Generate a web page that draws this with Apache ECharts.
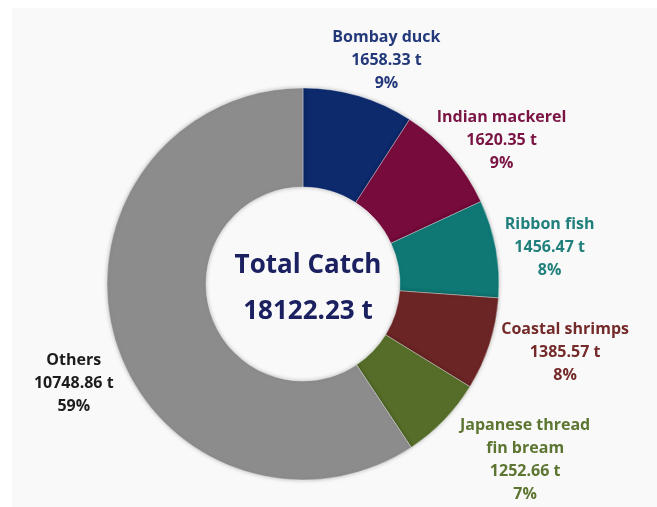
<!DOCTYPE html>
<html>
<head>
<meta charset="utf-8">
<script src="https://cdn.jsdelivr.net/npm/echarts@6/dist/echarts.min.js"></script>
<style>
  html, body { margin: 0; padding: 0; background: #ffffff; }
  #catchChart { position: absolute; left: 12px; top: 8px; width: 645px; height: 499px; background: #f9f9f9; }
</style>
</head>
<body>
<div id="catchChart"></div>
<script>
// catch by species, tonnes
var species = ['Bombay duck', 'Indian mackerel', 'Ribbon fish', 'Coastal shrimps', 'Japanese thread\nfin bream', 'Others'];
var catchTonnes = [1658.33, 1620.35, 1456.47, 1385.57, 1252.66, 10748.86];
var sharePct = [9, 9, 8, 8, 7, 59];
var totalCatch = '18122.23 t';

var sliceColors = ['#0d2a6d', '#760b3c', '#0f7874', '#6c2525', '#566d2a', '#8c8c8c'];
var labelColors = ['#23397a', '#7a1444', '#21807c', '#752a2a', '#5c7530', '#1c1c1c'];
// nudges from the default outside label spot
var labelNudge = [[10, -26], [28, -9], [29, 1], [51, 5], [59, 33], [-17, 40]];

var myChart = echarts.init(document.getElementById('catchChart'));

var pieData = species.map(function (name, i) {
    return {
        name: name,
        value: catchTonnes[i],
        itemStyle: { color: sliceColors[i] },
        label: {
            color: labelColors[i],
            formatter: name + '\n' + catchTonnes[i].toFixed(2) + ' t\n' + sharePct[i] + '%'
        }
    };
});

var option = {
    animation: false,
    title: {
        text: 'Total Catch\n' + totalCatch,
        left: 291,
        top: 276,
        textAlign: 'center',
        textVerticalAlign: 'middle',
        textStyle: {
            fontFamily: 'Open Sans',
            fontWeight: 'bold',
            fontSize: 26,
            lineHeight: 46,
            color: '#1b2060'
        }
    },
    series: [{
        type: 'pie',
        center: [291, 276],
        radius: [97, 196],
        startAngle: 90,
        clockwise: true,
        avoidLabelOverlap: false,
        itemStyle: {
            borderColor: 'rgba(255,255,255,0.35)',
            borderWidth: 1,
            shadowBlur: 4,
            shadowColor: 'rgba(0,0,0,0.25)'
        },
        label: {
            show: true,
            position: 'outside',
            fontFamily: 'Open Sans',
            fontWeight: 'bold',
            fontSize: 16,
            lineHeight: 23
        },
        labelLine: { show: false, length: 10, length2: 10 },
        labelLayout: function (p) {
            var n = labelNudge[p.dataIndex];
            return { align: 'center', verticalAlign: 'middle', dx: n[0], dy: n[1] };
        },
        data: pieData
    }]
};

myChart.setOption(option);
</script>
</body>
</html>
